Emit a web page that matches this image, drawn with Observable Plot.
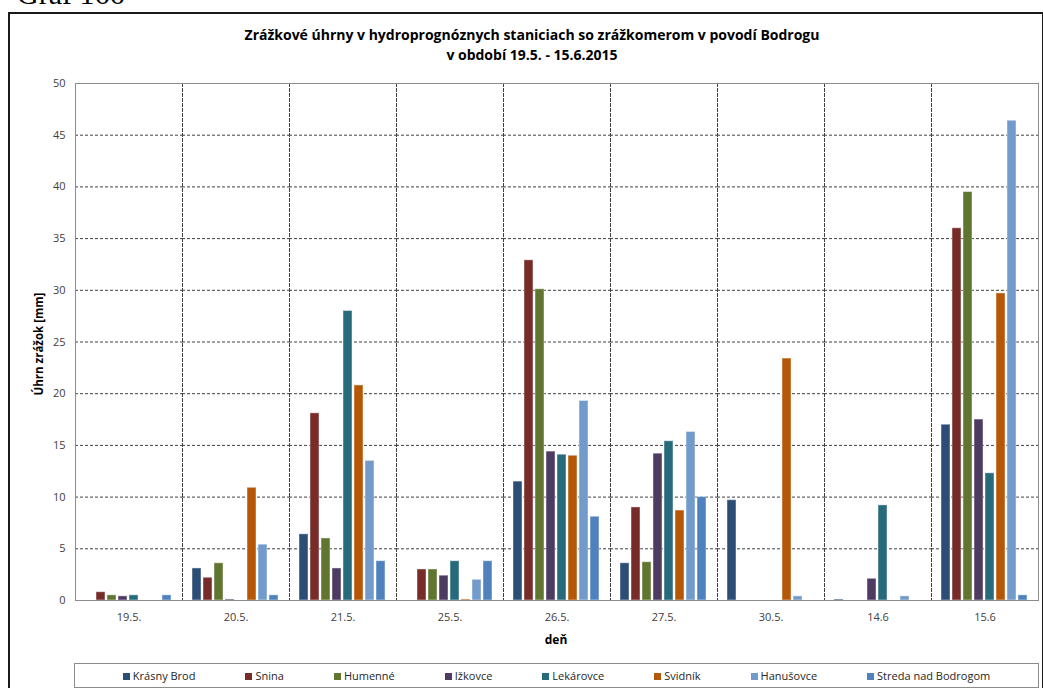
<!DOCTYPE html>
<html><head><meta charset="utf-8">
<script src="https://cdn.jsdelivr.net/npm/d3@7"></script>
<script src="https://cdn.jsdelivr.net/npm/@observablehq/plot@0.6"></script>
<style>
body{margin:0;background:#fff;overflow:hidden;width:1043px;height:688px;position:relative;font-family:"Open Sans",sans-serif;}
#graf{position:absolute;left:17px;top:-21px;font:30px/30px "Liberation Serif",serif;color:#000;white-space:nowrap;}
#box{position:absolute;left:8px;top:12px;width:1032px;height:700px;border:2px solid #1a1a1a;}
#title{position:absolute;left:0;width:1064px;top:25px;text-align:center;font-weight:bold;font-size:14px;line-height:20px;color:#000;}
#chart{position:absolute;left:0;top:70px;}
#ylab{position:absolute;left:38px;top:344px;transform:translate(-50%,-50%) rotate(-90deg);font-weight:bold;font-size:11.5px;white-space:nowrap;color:#000;}
#xlab{position:absolute;left:556px;top:639px;transform:translate(-50%,-50%);font-weight:bold;font-size:12px;color:#000;}
#legend{position:absolute;left:74px;top:663px;width:965px;height:25px;box-sizing:border-box;border:1px solid #8c8c8c;display:flex;align-items:center;justify-content:center;gap:50px;font-size:11px;color:#262626;}
#legend span.sw{display:inline-block;width:7px;height:7px;margin-right:3px;vertical-align:middle;position:relative;top:-1px;}
</style></head>
<body>
<div id="graf">Graf 166</div>
<div id="box"></div>
<div id="title">Zrážkové úhrny v hydroprognóznych staniciach so zrážkomerom v povodí Bodrogu<br>v období 19.5. - 15.6.2015</div>
<div id="chart"></div>
<div id="ylab">Úhrn zrážok [mm]</div>
<div id="xlab">deň</div>
<div id="legend"></div>
<script>
const days = ["19.5.", "20.5.", "21.5.", "25.5.", "26.5.", "27.5.", "30.5.", "14.6", "15.6"];
const stations = ["Krásny Brod", "Snina", "Humenné", "Ižkovce", "Lekárovce", "Svidník", "Hanušovce", "Streda nad Bodrogom"];
const colors = ["#2c4d75", "#772c2a", "#5f7530", "#4d3b62", "#276a7c", "#b65708", "#729aca", "#4f81bd"];
const yTicks = [0, 5, 10, 15, 20, 25, 30, 35, 40, 45, 50];
const gridTicks = [5, 10, 15, 20, 25, 30, 35, 40, 45];

const krasnyBrod = [0, 3.1, 6.4, 0, 11.5, 3.6, 9.7, 0.1, 17.0];
const snina      = [0.8, 2.2, 18.1, 3.0, 32.9, 9.0, 0, 0, 36.0];
const humenne    = [0.5, 3.6, 6.0, 3.0, 30.1, 3.7, 0, 0, 39.5];
const izkovce    = [0.4, 0.1, 3.1, 2.4, 14.4, 14.2, 0, 2.1, 17.5];
const lekarovce  = [0.5, 0, 28.0, 3.8, 14.1, 15.4, 0, 9.2, 12.3];
const svidnik    = [0, 10.9, 20.8, 0.1, 14.0, 8.7, 23.4, 0, 29.7];
const hanusovce  = [0, 5.4, 13.5, 2.0, 19.3, 16.3, 0.4, 0.4, 46.4];
const streda     = [0.5, 0.5, 3.8, 3.8, 8.1, 10.0, 0, 0, 0.5];

const series = [krasnyBrod, snina, humenne, izkovce, lekarovce, svidnik, hanusovce, streda];
const table = days.flatMap((day, i) => stations.map((s, j) => ({day, station: s, value: series[j][i]})));

const plot = Plot.plot({
  width: 1043, height: 580,
  marginLeft: 73, marginRight: 4, marginTop: 13, marginBottom: 50,
  style: {fontFamily: "'Open Sans', sans-serif", fontSize: "11px", color: "#404040", background: "transparent"},
  fx: {domain: days, padding: 0, label: null},
  x: {domain: stations, paddingInner: 0.18, paddingOuter: 0.84, axis: null},
  y: {domain: [0, 50], label: null},
  color: {domain: stations, range: colors},
  marks: [
    Plot.gridY(gridTicks, {stroke: "#404040", strokeOpacity: 1, strokeDasharray: "3,2"}),
    Plot.frame({anchor: "left", stroke: "#404040", strokeDasharray: "3,2"}),
    Plot.barY(table, {fx: "day", x: "station", y: "value", fill: "station", stroke: "#ffffff", strokeOpacity: 0.45, strokeWidth: 1, filter: d => d.value > 0}),
    Plot.frame({facet: "super", stroke: "#8c8c8c"}),
    Plot.axisY(yTicks, {tickSize: 0, tickPadding: 10, label: null}),
    Plot.axisFx({anchor: "bottom", tickSize: 0, tickPadding: 13, label: null})
  ]
});
document.getElementById("chart").appendChild(plot);

const leg = document.getElementById("legend");
stations.forEach((s, i) => {
  const it = document.createElement("div");
  it.innerHTML = `<span class="sw" style="background:${colors[i]}"></span>${s}`;
  leg.appendChild(it);
});
</script>
</body></html>
